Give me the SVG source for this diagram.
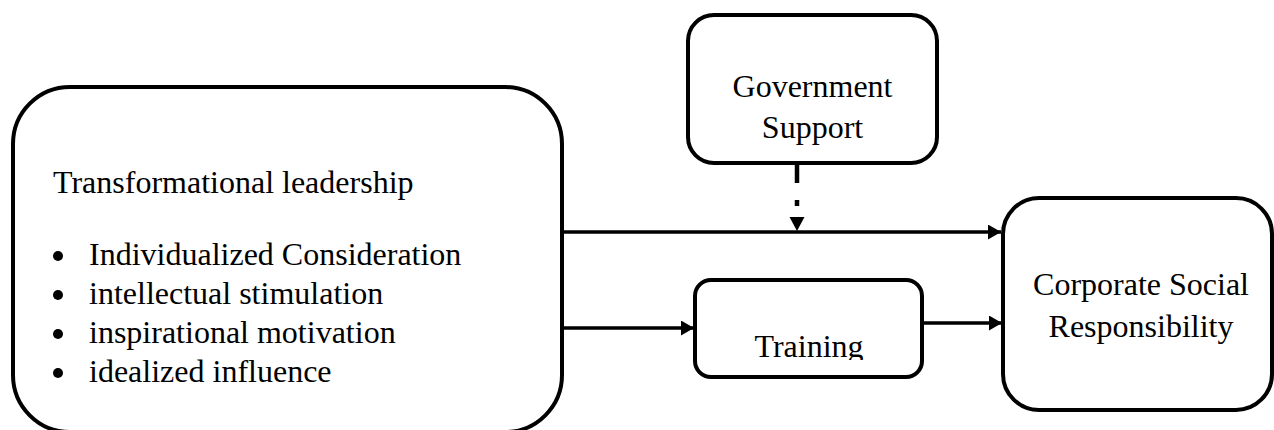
<svg xmlns="http://www.w3.org/2000/svg" width="1274" height="430" viewBox="0 0 1274 430">
  <style>
    .box { fill: #ffffff; stroke: #000000; stroke-width: 4; }
    .t { font-family: "Liberation Serif", "Times New Roman", serif; font-size: 32px; fill: #000000; }
    .c { text-anchor: middle; }
    .line { stroke: #000000; stroke-width: 3.3; fill: none; }
    .dash { stroke: #000000; stroke-width: 4.5; fill: none; stroke-dasharray: 20 17 6 40; }
  </style>
  <defs>
    <marker id="arrow" markerUnits="userSpaceOnUse" markerWidth="14" markerHeight="16" refX="13" refY="7.5" orient="auto">
      <path d="M0,0 L13,7.5 L0,15 Z" fill="#000000"/>
    </marker>
    <clipPath id="clipTraining">
      <rect x="695" y="280" width="227" height="80"/>
    </clipPath>
  </defs>
  <rect width="1274" height="430" fill="#ffffff"/>

  <g id="transformational-leadership">
    <rect class="box" x="13" y="87" width="549" height="345" rx="57" ry="57"/>
    <text class="t" x="53" y="193">Transformational leadership</text>
    <circle cx="58" cy="256" r="5"/>
    <text class="t" x="89" y="265">Individualized Consideration</text>
    <circle cx="58" cy="295" r="5"/>
    <text class="t" x="89" y="304">intellectual stimulation</text>
    <circle cx="58" cy="334" r="5"/>
    <text class="t" x="89" y="343">inspirational motivation</text>
    <circle cx="58" cy="373" r="5"/>
    <text class="t" x="89" y="382">idealized influence</text>
  </g>

  <g id="government-support">
    <rect class="box" x="688" y="15" width="249" height="148" rx="26" ry="26"/>
    <text class="t c" x="812.5" y="97">Government</text>
    <text class="t c" x="812.5" y="138">Support</text>
  </g>

  <g id="training">
    <rect class="box" x="695" y="280" width="227" height="97" rx="16" ry="16"/>
    <text class="t c" x="809" y="357" clip-path="url(#clipTraining)">Training</text>
  </g>

  <g id="csr">
    <rect class="box" x="1003" y="198" width="269" height="212" rx="36" ry="36"/>
    <text class="t c" x="1141" y="295">Corporate Social</text>
    <text class="t c" x="1141" y="337">Responsibility</text>
  </g>

  <g id="connectors">
    <line class="line" x1="562" y1="232" x2="1001" y2="232" marker-end="url(#arrow)"/>
    <line class="line" x1="562" y1="328" x2="694" y2="328" marker-end="url(#arrow)"/>
    <line class="line" x1="922" y1="323" x2="1002" y2="323" marker-end="url(#arrow)"/>
    <line class="dash" x1="797" y1="163" x2="797" y2="217"/>
    <path d="M789.5,217 L804.5,217 L797,231 Z" fill="#000000"/>
  </g>
</svg>
